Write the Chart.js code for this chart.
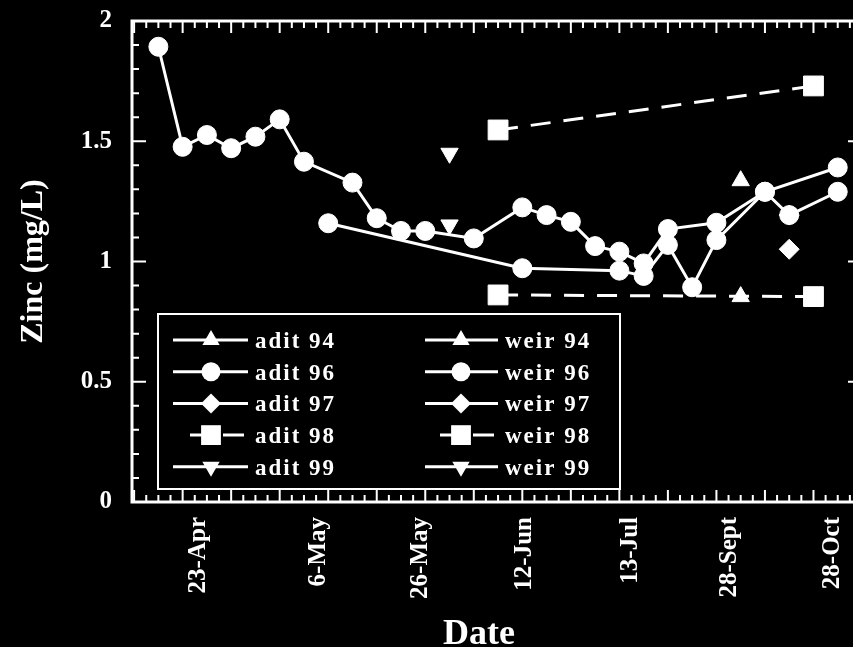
<!DOCTYPE html>
<html>
<head>
<meta charset="utf-8">
<title>Zinc (mg/L) by date</title>
<script src="https://cdn.jsdelivr.net/npm/chart.js@4.4.1/dist/chart.umd.min.js"></script>
<style>
  html, body { margin: 0; padding: 0; background: #000; overflow: hidden; }
  canvas { display: block; }
</style>
</head>
<body>
<canvas id="zincChart" width="877" height="647"></canvas>
<script>
// x axis: sampling slots 0..28, only some slots get a date label
const dateLabels = ["23-Apr", "6-May", "26-May", "12-Jun", "13-Jul", "28-Sept", "28-Oct"];
const dateTickPos = [1.65, 6.6, 10.8, 15.1, 19.45, 23.55, 27.8];
const yTicks = [0, 0.5, 1, 1.5, 2];

// series: slot index + zinc value (mg/L)
const adit94Idx = [24];
const adit94 = [1.336];
const weir94Idx = [24];
const weir94 = [0.854];

const adit96Idx = [0, 1, 2, 3, 4, 5, 6, 8, 9, 10, 11, 13, 15, 16, 17, 18, 19, 20, 21, 23, 25, 28];
const adit96 = [1.893, 1.477, 1.526, 1.471, 1.519, 1.591, 1.415, 1.328, 1.180, 1.127, 1.127, 1.096,
  1.225, 1.193, 1.165, 1.064, 1.041, 0.992, 1.135, 1.161, 1.290, 1.391];
const weir96Idx = [7, 15, 19, 20, 21, 22, 23, 25, 26, 28];
const weir96 = [1.159, 0.972, 0.962, 0.940, 1.069, 0.893, 1.089, 1.290, 1.193, 1.290];

const adit97Idx = [26];
const adit97 = [1.051];
const weir97Idx = [26];
const weir97 = [1.193];

const adit98Idx = [14, 27];
const adit98 = [1.547, 1.730];
const weir98Idx = [14, 27];
const weir98 = [0.861, 0.854];

const adit99Idx = [12];
const adit99 = [1.450];
const weir99Idx = [12];
const weir99 = [1.152];

const FONT = "'Liberation Serif', 'Times New Roman', serif";
Chart.defaults.font.family = FONT;
Chart.defaults.font.weight = "bold";
Chart.defaults.color = "#fff";

function series(label, idx, vals, style, radius, rotation, dashed) {
  return {
    label: label,
    data: idx.map((x, i) => ({ x: x, y: vals[i] })),
    borderColor: "#fff",
    backgroundColor: "#fff",
    borderWidth: 3,
    borderDash: dashed ? [20, 13] : [],
    pointStyle: style,
    pointRadius: radius,
    pointRotation: rotation,
    pointBackgroundColor: "#fff",
    pointBorderColor: "#fff",
    pointBorderWidth: 1,
    spanGaps: true,
    tension: 0,
    dashedLegend: dashed
  };
}

const datasets = [
  series("adit 94", adit94Idx, adit94, "triangle", 10, 0, false),
  series("adit 96", adit96Idx, adit96, "circle", 9.5, 0, false),
  series("adit 97", adit97Idx, adit97, "rectRot", 10, 0, false),
  series("adit 98", adit98Idx, adit98, "rect", 14, 0, true),
  series("adit 99", adit99Idx, adit99, "triangle", 10, 180, false),
  series("weir 94", weir94Idx, weir94, "triangle", 10, 0, false),
  series("weir 96", weir96Idx, weir96, "circle", 9.5, 0, false),
  series("weir 97", weir97Idx, weir97, "rectRot", 10, 0, false),
  series("weir 98", weir98Idx, weir98, "rect", 14, 0, true),
  series("weir 99", weir99Idx, weir99, "triangle", 10, 180, false)
];

function drawMarker(ctx, style, r, rot, x, y) {
  ctx.save();
  ctx.translate(x, y);
  ctx.rotate(rot * Math.PI / 180);
  ctx.beginPath();
  if (style === "circle") {
    ctx.arc(0, 0, r, 0, Math.PI * 2);
  } else if (style === "rect") {
    const s = r * Math.SQRT1_2;
    ctx.rect(-s, -s, 2 * s, 2 * s);
  } else if (style === "rectRot") {
    ctx.moveTo(-r, 0); ctx.lineTo(0, -r); ctx.lineTo(r, 0); ctx.lineTo(0, r);
    ctx.closePath();
  } else {
    for (let k = 0; k < 3; k++) {
      const a = -Math.PI / 2 + k * 2 * Math.PI / 3;
      if (k === 0) ctx.moveTo(r * Math.cos(a), r * Math.sin(a));
      else ctx.lineTo(r * Math.cos(a), r * Math.sin(a));
    }
    ctx.closePath();
  }
  ctx.fillStyle = "#fff";
  ctx.fill();
  ctx.restore();
}

// frame with inward ticks on all four sides, the boxed legend and the x title
const framePlugin = {
  id: "frame",
  afterDraw(chart) {
    const ctx = chart.ctx;
    const a = chart.chartArea;
    const xs = chart.scales.x, ys = chart.scales.y;
    ctx.save();
    ctx.strokeStyle = "#fff";
    ctx.lineWidth = 3;
    ctx.strokeRect(a.left, a.top, a.right - a.left, a.bottom - a.top);

    ctx.lineWidth = 2;
    ctx.beginPath();
    for (let k = 0; k <= 20; k++) {
      const y = ys.getPixelForValue(k / 10);
      const len = k % 5 === 0 ? 14 : 7;
      ctx.moveTo(a.left, y); ctx.lineTo(a.left + len, y);
      ctx.moveTo(a.right, y); ctx.lineTo(a.right - len, y);
    }
    for (let k = -2; k <= 58; k++) {
      const v = k / 2;
      if (v < xs.min || v > xs.max) continue;
      const x = xs.getPixelForValue(v);
      const len = (k % 4 === 2 || k % 4 === -2) ? 12 : 7;
      ctx.moveTo(x, a.top); ctx.lineTo(x, a.top + len);
      ctx.moveTo(x, a.bottom); ctx.lineTo(x, a.bottom - len);
    }
    ctx.stroke();

    // legend box
    const box = { x: 158, y: 314, w: 462, h: 175 };
    ctx.fillStyle = "#000";
    ctx.fillRect(box.x, box.y, box.w, box.h);
    ctx.lineWidth = 2;
    ctx.strokeRect(box.x, box.y, box.w, box.h);
    const cols = [
      { from: 173, to: 248, mark: 211, text: 255 },
      { from: 425, to: 498, mark: 461, text: 505 }
    ];
    ctx.font = "bold 23px " + FONT;
    ctx.letterSpacing = "2px";
    ctx.textBaseline = "alphabetic";
    ctx.textAlign = "left";
    chart.data.datasets.forEach((ds, i) => {
      const col = cols[Math.floor(i / 5)];
      const y = 340 + (i % 5) * 31.7;
      ctx.lineWidth = 3;
      ctx.beginPath();
      if (ds.dashedLegend) {
        ctx.moveTo(col.mark - 21, y); ctx.lineTo(col.mark - 8, y);
        ctx.moveTo(col.mark + 12, y); ctx.lineTo(col.mark + 33, y);
      } else {
        ctx.moveTo(col.from, y); ctx.lineTo(col.to, y);
      }
      ctx.stroke();
      drawMarker(ctx, ds.pointStyle, ds.pointRadius, ds.pointRotation, col.mark, y);
      ctx.fillStyle = "#fff";
      ctx.fillText(ds.label, col.text, y + 8);
    });

    ctx.letterSpacing = "0px";
    ctx.font = "bold 36px " + FONT;
    ctx.textAlign = "center";
    ctx.fillStyle = "#fff";
    ctx.fillText("Date", 479, 644);
    ctx.restore();
  }
};

function noOverflow(s) {
  s.paddingLeft = 0; s.paddingRight = 0; s.paddingTop = 0; s.paddingBottom = 0;
}

new Chart(document.getElementById("zincChart"), {
  type: "line",
  data: { datasets: datasets },
  options: {
    responsive: false,
    animation: false,
    devicePixelRatio: 1,
    layout: { padding: { top: 21, right: 2, left: 0, bottom: 0 } },
    plugins: { legend: { display: false }, tooltip: { enabled: false } },
    scales: {
      x: {
        type: "linear",
        min: -1.087,
        max: 29,
        grid: { display: false, drawTicks: false },
        border: { display: false },
        afterBuildTicks: (s) => { s.ticks = dateTickPos.map((v) => ({ value: v })); },
        afterFit: (s) => { s.height = 145; noOverflow(s); },
        ticks: {
          autoSkip: false,
          minRotation: 90,
          maxRotation: 90,
          padding: 15,
          font: { size: 25, weight: "bold" },
          callback: (v, i) => dateLabels[i]
        }
      },
      y: {
        min: 0,
        max: 2,
        grid: { display: false, drawTicks: false },
        border: { display: false },
        afterBuildTicks: (s) => { s.ticks = yTicks.map((v) => ({ value: v })); },
        afterFit: (s) => { s.width = 132; noOverflow(s); },
        ticks: { padding: 20, font: { size: 25, weight: "bold" }, callback: (v) => String(v) },
        title: {
          display: true,
          text: "Zinc (mg/L)",
          font: { size: 32, weight: "bold" },
          padding: { top: 15, bottom: 0 }
        }
      }
    }
  },
  plugins: [framePlugin]
});
</script>
</body>
</html>
